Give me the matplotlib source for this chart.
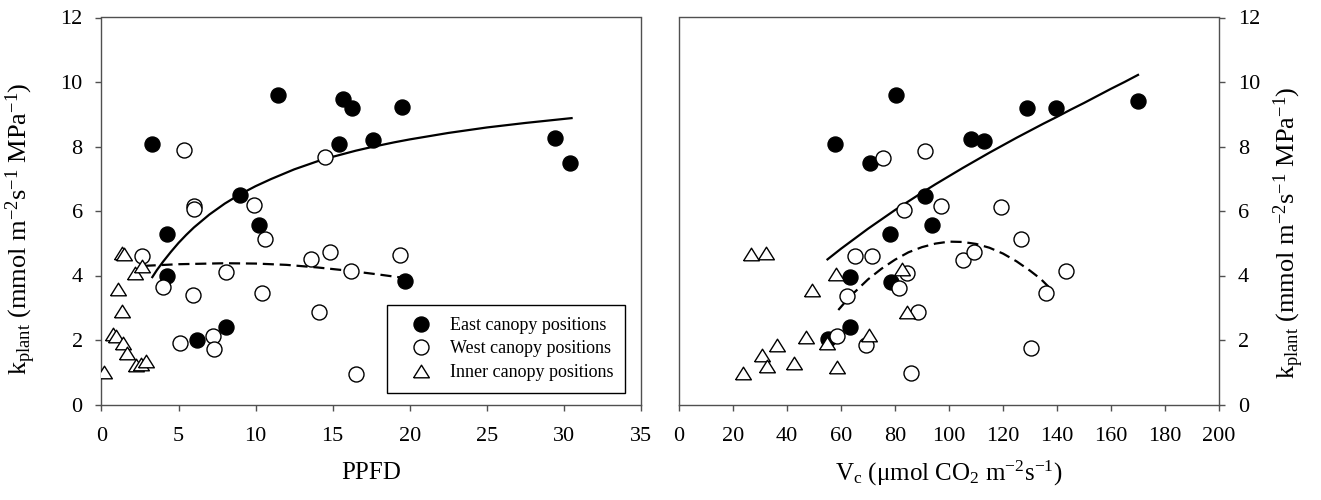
import matplotlib
matplotlib.use("Agg")
import matplotlib.pyplot as plt

plt.rcParams['font.family'] = ['Liberation Serif', 'DejaVu Serif']
plt.rcParams['mathtext.fontset'] = 'custom'
plt.rcParams['mathtext.rm'] = 'Liberation Serif'
plt.rcParams['mathtext.it'] = 'Liberation Serif:italic'
plt.rcParams['mathtext.default'] = 'regular'

# ---------------- data: left panel (PPFD) ----------------
east_ppfd = [3.26, 4.27, 4.27, 6.19, 8.06, 8.99, 10.25, 11.43, 15.43, 15.70, 16.25, 17.62, 19.51, 19.70, 29.43, 30.42]
east_kp_l = [8.09, 5.30, 3.97, 2.01, 2.39, 6.49, 5.58, 9.61, 8.07, 9.46, 9.20, 8.19, 9.22, 3.83, 8.26, 7.49]

west_ppfd = [5.34, 2.66, 4.00, 6.03, 6.03, 5.97, 5.07, 7.23, 7.29, 8.11, 9.89, 10.58, 10.44, 13.62, 14.50, 14.85, 14.11, 16.17, 16.50, 19.38]
west_kp_l = [7.88, 4.62, 3.64, 6.16, 6.05, 3.39, 1.91, 2.11, 1.73, 4.11, 6.20, 5.14, 3.47, 4.50, 7.67, 4.72, 2.88, 4.14, 0.96, 4.65]

inner_ppfd = [0.18, 0.77, 0.94, 1.41, 1.64, 2.24, 2.54, 2.89, 1.35, 1.09, 1.35, 1.48, 2.17, 2.65]
inner_kp_l = [1.02, 2.18, 2.11, 1.92, 1.59, 1.23, 1.25, 1.35, 2.90, 3.58, 4.71, 4.67, 4.09, 4.30]

# fitted curves
fit_e_ppfd = [3.3, 3.6, 4.0, 4.5, 5.0, 5.5, 6.0, 7.0, 8.0, 9.0, 10.0, 11.0, 12.5, 14.0, 15.0,
              16.5, 17.5, 19.0, 20.0, 22.5, 25.0, 27.5, 30.5]
fit_e_kp_l = [3.95, 4.17, 4.43, 4.73, 5.01, 5.26, 5.49, 5.89, 6.23, 6.52, 6.77, 6.99, 7.29, 7.54, 7.68,
              7.87, 7.98, 8.13, 8.22, 8.42, 8.59, 8.73, 8.88]

fit_w_ppfd = [2.8, 5.0, 8.0, 10.0, 12.0, 14.0, 16.0, 18.0, 19.7]
fit_w_kp_l = [4.30, 4.35, 4.38, 4.37, 4.33, 4.25, 4.15, 4.03, 3.92]

# ---------------- data: right panel (Vc) ----------------
east_vc = [57.6, 80.2, 70.9, 91.2, 78.3, 93.8, 63.3, 78.5, 63.3, 55.0, 108.2, 112.8, 128.9, 139.5, 169.9]
east_kp_r = [8.08, 9.59, 7.48, 6.48, 5.29, 5.56, 3.96, 3.81, 2.39, 2.03, 8.22, 8.16, 9.20, 9.19, 9.41]

west_vc = [75.6, 91.2, 83.3, 97.1, 119.2, 126.5, 65.0, 71.6, 105.1, 109.3, 84.4, 81.6, 62.3, 88.6, 58.7, 69.4, 86.1, 130.5, 135.9, 143.3]
west_kp_r = [7.63, 7.86, 6.04, 6.16, 6.12, 5.12, 4.62, 4.60, 4.48, 4.73, 4.09, 3.62, 3.37, 2.88, 2.11, 1.86, 0.98, 1.75, 3.47, 4.13]

inner_vc = [26.6, 32.2, 58.2, 82.6, 49.2, 84.4, 47.0, 70.2, 54.8, 36.2, 30.6, 32.5, 42.7, 58.6, 23.6]
inner_kp_r = [4.66, 4.71, 4.05, 4.20, 3.56, 2.86, 2.08, 2.14, 1.90, 1.85, 1.54, 1.20, 1.28, 1.17, 0.97]

fit_e_vc = [55, 60, 65, 70, 75, 80, 85, 90, 95, 100, 105, 110, 115, 120, 125, 130, 135, 140,
            145, 150, 155, 160, 165, 170]
fit_e_kp_r = [4.50, 4.83, 5.14, 5.45, 5.74, 6.03, 6.30, 6.57, 6.83, 7.08, 7.33, 7.57, 7.81, 8.04,
              8.27, 8.49, 8.71, 8.92, 9.14, 9.35, 9.57, 9.79, 10.00, 10.22]

fit_w_vc = [59, 62, 65, 70, 75, 80, 85, 90, 95, 100, 105, 110, 115, 120, 125, 130, 134, 137]
fit_w_kp_r = [2.93, 3.22, 3.48, 3.88, 4.21, 4.49, 4.72, 4.88, 4.99, 5.05, 5.04, 4.98, 4.86, 4.68,
              4.44, 4.15, 3.89, 3.64]

legend_labels = ['East canopy positions', 'West canopy positions', 'Inner canopy positions']

# ---------------- drawing ----------------
fig = plt.figure(figsize=(13.21, 5.0), dpi=100)
ax1 = fig.add_axes([0.0768, 0.191, 0.4084, 0.774])
ax2 = fig.add_axes([0.514, 0.191, 0.4088, 0.774])

tri = [(-1, -0.8), (1, -0.8), (0, 0.8), (-1, -0.8)]
ms = 10.8
spine_col = '#505050'
tick_fs = 16
label_fs = 18


def draw(ax, ex, ey, wx, wy, ix, iy, fex, fey, fwx, fwy):
    ax.plot(fex, fey, color='black', lw=1.6, zorder=2, solid_joinstyle='round')
    ax.plot(fwx, fwy, color='black', lw=1.6, dashes=(5, 2.6), zorder=2)
    h1, = ax.plot(ex, ey, 'o', ms=ms, mfc='black', mec='black', mew=1.0, ls='none', zorder=3)
    h2, = ax.plot(wx, wy, 'o', ms=ms, mfc='white', mec='black', mew=1.0, ls='none', zorder=3)
    h3, = ax.plot(ix, iy, marker=tri, ms=ms * 1.05, mfc='white', mec='black', mew=1.0, ls='none', zorder=3)
    for s in ax.spines.values():
        s.set_color(spine_col)
        s.set_linewidth(1.0)
    ax.tick_params(direction='out', length=4.5, width=1.0, color=spine_col,
                   labelsize=tick_fs, pad=9)
    ax.tick_params(axis='x', pad=12)
    return h1, h2, h3


h = draw(ax1, east_ppfd, east_kp_l, west_ppfd, west_kp_l, inner_ppfd, inner_kp_l,
         fit_e_ppfd, fit_e_kp_l, fit_w_ppfd, fit_w_kp_l)
draw(ax2, east_vc, east_kp_r, west_vc, west_kp_r, inner_vc, inner_kp_r,
     fit_e_vc, fit_e_kp_r, fit_w_vc, fit_w_kp_r)

ax1.set_xlim(0, 35)
ax1.set_ylim(0, 12)
ax1.set_xticks(range(0, 36, 5))
ax1.set_yticks(range(0, 13, 2))

ax2.set_xlim(0, 200)
ax2.set_ylim(0, 12)
ax2.set_xticks(range(0, 201, 20))
ax2.set_yticks(range(0, 13, 2))
ax2.yaxis.tick_right()
ax2.yaxis.set_label_position('right')

ylab = r'k$_\mathregular{plant}$ (mmol m$^\mathregular{-2}$s$^\mathregular{-1}$ MPa$^\mathregular{-1}$)'
ax1.set_ylabel(ylab, fontsize=19)
ax2.set_ylabel(ylab, fontsize=19)
ax1.yaxis.set_label_coords(-0.118, 0.455)
ax2.yaxis.set_label_coords(1.097, 0.445)
ax1.set_xlabel('PPFD', fontsize=label_fs, labelpad=11)
ax2.set_xlabel(r'V$_\mathregular{c}$ (μmol CO$_\mathregular{2}$ m$^\mathregular{-2}$s$^\mathregular{-1}$)',
               fontsize=label_fs, labelpad=9)

leg = ax1.legend(h, legend_labels, loc='lower left',
                 bbox_to_anchor=(0.53, 0.0305, 0.44, 0.231), mode='expand',
                 fontsize=13, frameon=True, fancybox=False, framealpha=1,
                 edgecolor='black', borderpad=0.65, handlelength=2.4,
                 handletextpad=0.4, labelspacing=0.36, numpoints=1,
                 borderaxespad=0)
leg.get_frame().set_linewidth(1.0)

fig.savefig('out.png', dpi=100)
